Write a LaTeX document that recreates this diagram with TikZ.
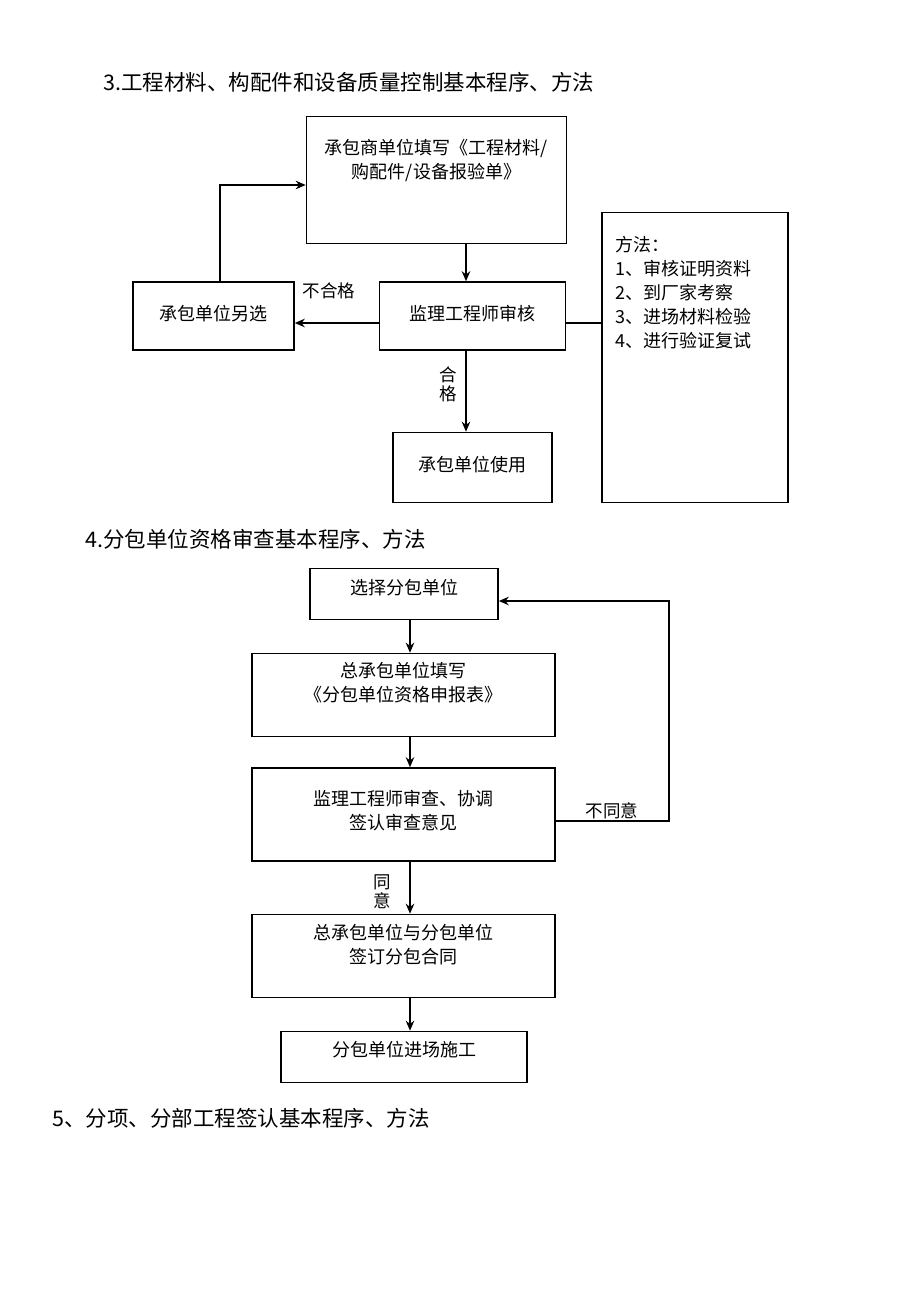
\documentclass[tikz,border=0pt]{standalone}
\usepackage{fontspec}
\setmainfont{Noto Sans CJK SC}
\usetikzlibrary{arrows.meta}
\begin{document}
\begin{tikzpicture}[x=1pt,y=-1pt,
  box/.style={draw, line width=1.6pt, inner sep=0pt},
  txt/.style={font=\fontsize{18}{24}\selectfont, inner sep=0pt, align=center},
  head/.style={font=\fontsize{21.5}{26}\selectfont, anchor=west, inner sep=0pt},
  arr/.style={line width=1.5pt, -{Stealth[length=10pt,width=8.5pt]}},
  ln/.style={line width=1.5pt},
  lab/.style={font=\fontsize{17.5}{19}\selectfont, inner sep=0pt, align=center}]
\useasboundingbox[fill=white] (0,0) rectangle (920,1301);

% ---------- Section 3 ----------
\node[head] (h1) at (103,82) {3.工程材料、构配件和设备质量控制基本程序、方法};

\node[box, minimum width=260pt, minimum height=127pt] (A) at (436.5,180) {};
\node[txt] (tA) at (436.5,160) {承包商单位填写《工程材料/\\购配件/设备报验单》};

\node[box, minimum width=186pt, minimum height=68pt] (B) at (472.5,316) {};
\node[txt] (tB) at (472.5,314) {监理工程师审核};

\node[box, minimum width=161pt, minimum height=68pt] (C) at (213.5,316) {};
\node[txt] (tC) at (213.5,314) {承包单位另选};

\node[box, minimum width=159pt, minimum height=70pt] (D) at (472.5,467.5) {};
\node[txt] (tD) at (472.5,465) {承包单位使用};

\node[box, minimum width=186pt, minimum height=290pt] (E) at (695,357.5) {};
\node[font=\fontsize{18}{24}\selectfont, inner sep=0pt, align=left, anchor=west] (tE) at (615,293)
  {方法：\\1、审核证明资料\\2、到厂家考察\\3、进场材料检验\\4、进行验证复试};

\coordinate (x1) at (466,0);
\coordinate (y1) at (0,323);
\coordinate (x2) at (220,0);
\coordinate (y2) at (0,185);

\draw[arr] (A.south -| x1) -- (B.north -| x1);
\draw[arr] (B.west |- y1) -- (C.east |- y1);
\draw[arr] (C.north -| x2) |- (A.west |- y2);
\draw[arr] (B.south -| x1) -- (D.north -| x1);
\draw[ln] (B.east |- y1) -- (E.west |- y1);

\node[lab] (l1) at (329,291) {不合格};
\node[lab] (l2) at (448,384) {合\\格};

% ---------- Section 4 ----------
\node[head] (h2) at (85,539) {4.分包单位资格审查基本程序、方法};

\node[box, minimum width=188pt, minimum height=51pt] (F) at (404,594) {};
\node[txt] (tF) at (404,588) {选择分包单位};

\node[box, minimum width=303pt, minimum height=83pt] (G) at (403.5,695) {};
\node[txt] (tG) at (403.5,683) {总承包单位填写\\《分包单位资格申报表》};

\node[box, minimum width=303pt, minimum height=93pt] (H) at (403.5,814.5) {};
\node[txt] (tH) at (403.5,811) {监理工程师审查、协调\\签认审查意见};

\node[box, minimum width=303pt, minimum height=83pt] (I) at (403.5,956) {};
\node[txt] (tI) at (403.5,945) {总承包单位与分包单位\\签订分包合同};

\node[box, minimum width=246pt, minimum height=51pt] (J) at (404,1057) {};
\node[txt] (tJ) at (404,1050) {分包单位进场施工};

\coordinate (x3) at (410,0);
\coordinate (x4) at (669,0);
\coordinate (y3) at (0,821);
\coordinate (y4) at (0,601);

\draw[arr] (F.south -| x3) -- (G.north -| x3);
\draw[arr] (G.south -| x3) -- (H.north -| x3);
\draw[arr] (H.south -| x3) -- (I.north -| x3);
\draw[arr] (I.south -| x3) -- (J.north -| x3);
\draw[arr] (H.east |- y3) -| (x4 |- y4) -- (F.east |- y4);

\node[lab] (l3) at (612,811) {不同意};
\node[lab] (l4) at (382.5,892) {同\\意};

% ---------- Section 5 ----------
\node[head] (h3) at (52,1118) {5、分项、分部工程签认基本程序、方法};
\end{tikzpicture}
\end{document}
